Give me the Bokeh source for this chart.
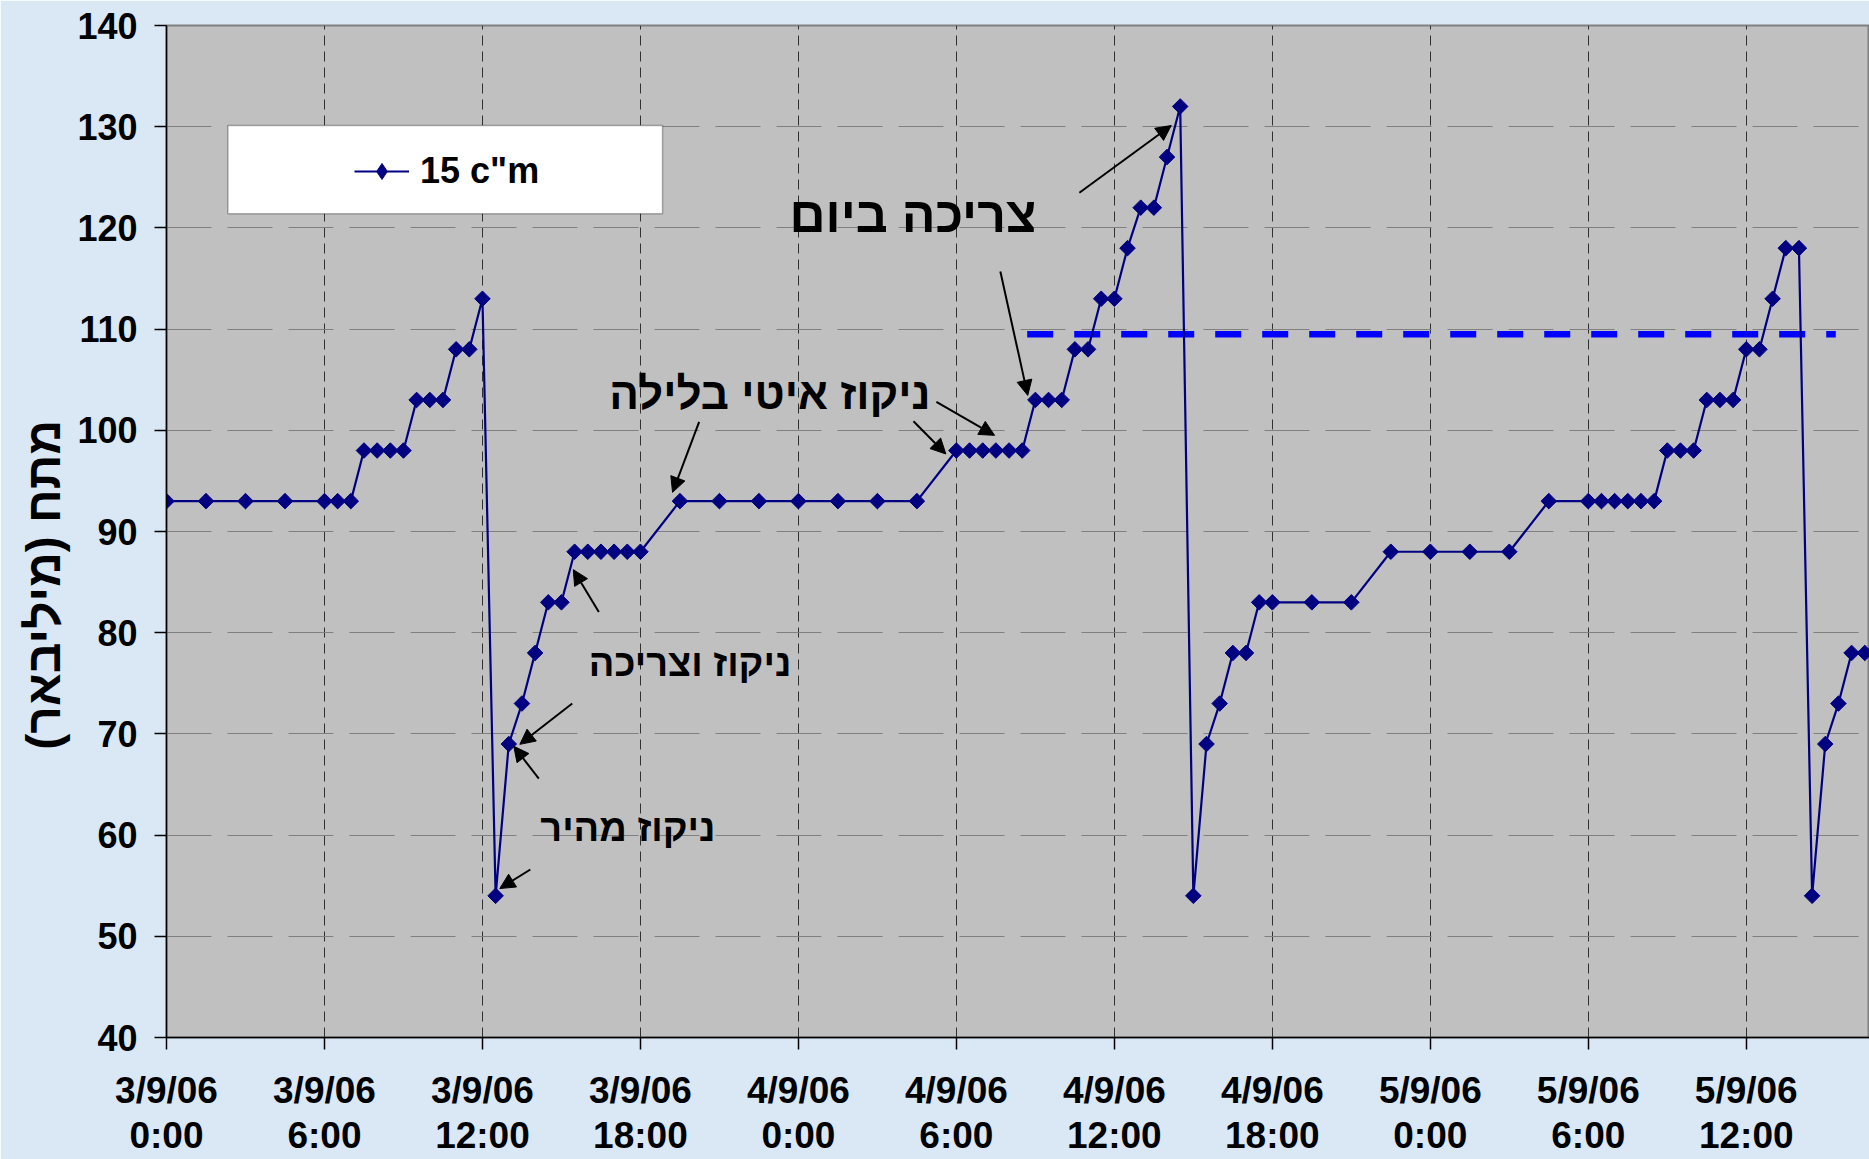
from bokeh.plotting import figure
from bokeh.models import (Range1d, FixedTicker, Arrow, NormalHead, Label, BoxAnnotation,
                          ColumnDataSource)
from bokeh.embed import file_html
from bokeh.resources import INLINE

# ---------------- data ----------------
# time in hours since 3/9/06 0:00
hours = [0, 1.5, 3, 4.5, 6, 6.5, 7, 7.5, 8, 8.5, 9, 9.5, 10, 10.5, 11, 11.5, 12,
         12.5, 13, 13.5, 14, 14.5, 15, 15.5, 16, 16.5, 17, 17.5, 18,
         19.5, 21, 22.5, 24, 25.5, 27, 28.5,
         30, 30.5, 31, 31.5, 32, 32.5, 33, 33.5, 34, 34.5, 35, 35.5, 36, 36.5,
         37, 37.5, 38, 38.5,
         39, 39.5, 40, 40.5, 41, 41.5, 42, 43.5, 45, 46.5, 48, 49.5, 51,
         52.5, 54, 54.5, 55, 55.5, 56, 56.5, 57, 57.5, 58, 58.5, 59, 59.5,
         60, 60.5, 61, 61.5, 62,
         62.5, 63, 63.5, 64, 64.5]
tension = [93, 93, 93, 93, 93, 93, 93, 98, 98, 98, 98, 103, 103, 103, 108, 108, 113,
           54, 69, 73, 78, 83, 83, 88, 88, 88, 88, 88, 88,
           93, 93, 93, 93, 93, 93, 93,
           98, 98, 98, 98, 98, 98, 103, 103, 103, 108, 108, 113, 113, 118,
           122, 122, 127, 132,
           54, 69, 73, 78, 78, 83, 83, 83, 83, 88, 88, 88, 88,
           93, 93, 93, 93, 93, 93, 93, 98, 98, 98, 103, 103, 103,
           108, 108, 113, 118, 118,
           54, 69, 73, 78, 78]
series_name = "15 c\"m"

threshold_hours = [32.69, 63.4]
threshold_value = [109.5, 109.5]

x_ticks = [0, 6, 12, 18, 24, 30, 36, 42, 48, 54, 60]
x_tick_labels = ["3/9/06\n0:00", "3/9/06\n6:00", "3/9/06\n12:00", "3/9/06\n18:00",
                 "4/9/06\n0:00", "4/9/06\n6:00", "4/9/06\n12:00", "4/9/06\n18:00",
                 "5/9/06\n0:00", "5/9/06\n6:00", "5/9/06\n12:00"]
y_ticks = [40, 50, 60, 70, 80, 90, 100, 110, 120, 130, 140]
y_title = "מתח (מיליבאר)\u200f"

# annotation texts (right end x, middle y in data units)
note_texts = ["צריכה ביום", "ניקוז איטי בלילה", "ניקוז וצריכה", "ניקוז מהיר"]
note_x = [33.04, 29.02, 23.73, 20.85]
note_y = [121.23, 103.65, 77.02, 60.68]

# arrows (start -> end, data units)
arrow_x0 = [34.67, 31.67, 29.24, 28.37, 20.23, 16.42, 15.41, 14.14, 13.82]
arrow_y0 = [123.47, 115.7, 102.8, 100.9, 100.84, 82.04, 73.0, 65.58, 56.6]
arrow_x1 = [38.16, 32.71, 31.45, 29.6, 19.22, 15.45, 13.42, 13.19, 12.66]
arrow_y1 = [130.12, 103.45, 99.5, 97.66, 93.87, 86.23, 68.97, 68.78, 54.72]

# ---------------- figure ----------------
W, H = 1869, 1159
p = figure(width=W, height=H, x_range=Range1d(0, 64.68), y_range=Range1d(40, 140),
           output_backend="svg", toolbar_location=None,
           min_border_left=166, min_border_top=25, min_border_bottom=122, min_border_right=0,
           background_fill_color="#c0c0c0", border_fill_color="#dae8f6")
p.outline_line_color = "#808080"
p.outline_line_width = 2

# grids
p.ygrid.ticker = FixedTicker(ticks=y_ticks)
p.ygrid.grid_line_color = "#808080"
p.ygrid.grid_line_dash = "45 16"
p.ygrid.grid_line_width = 1
p.xgrid.ticker = FixedTicker(ticks=x_ticks)
p.xgrid.grid_line_color = "#303030"
p.xgrid.grid_line_dash = "10 6"
p.xgrid.grid_line_width = 1

# axes
for ax in (p.xaxis[0], p.yaxis[0]):
    ax.axis_line_color = "black"
    ax.axis_line_width = 1.5
    ax.major_tick_line_color = "black"
    ax.major_tick_line_width = 1.5
    ax.major_tick_in = 0
    ax.major_tick_out = 12
    ax.minor_tick_line_color = None
    ax.major_label_text_font = "Liberation Sans"
    ax.major_label_text_font_style = "bold"
    ax.major_label_text_color = "black"

p.xaxis.ticker = FixedTicker(ticks=x_ticks)
p.xaxis.major_label_overrides = {t: s for t, s in zip(x_ticks, x_tick_labels)}
p.xaxis.major_label_text_font_size = "37px"
p.xaxis.major_label_standoff = 20
p.xaxis.major_label_text_line_height = 1.1

p.yaxis.ticker = FixedTicker(ticks=y_ticks)
p.yaxis.major_label_text_font_size = "36px"
p.yaxis.major_label_standoff = 17
p.yaxis.axis_label = y_title + "\u00a0" * 8
p.yaxis.axis_label_text_font = "Liberation Sans"
p.yaxis.axis_label_text_font_style = "bold"
p.yaxis.axis_label_text_font_size = "48px"
p.yaxis.axis_label_text_color = "black"
p.yaxis.axis_label_standoff = 4

# legend frame (drawn below the legend entry)
p.add_layout(BoxAnnotation(left=2.33, right=18.84, bottom=121.4, top=130.12,
                           fill_color="white", fill_alpha=1.0,
                           line_color="black", line_width=1.5, level="annotation"))

# threshold dashed line
p.line(threshold_hours, threshold_value, line_color="#0000ff", line_width=6.5,
       line_dash="26 21")

# series
src = ColumnDataSource(dict(h=hours, v=tension))
p.line("h", "v", source=src, line_color="#000080", line_width=2.2, legend_label=series_name)
p.scatter("h", "v", source=src, marker="square", angle=0.7853981634, size=11,
          fill_color="#000080", line_color="#000080", line_width=1)
# same points, zero-size diamonds: only supply the legend symbol
p.scatter("h", "v", source=src, marker="diamond", size=0,
          fill_color="#000080", line_color="#000080", line_width=1, legend_label=series_name)

# arrows
asrc = ColumnDataSource(dict(x0=arrow_x0, y0=arrow_y0, x1=arrow_x1, y1=arrow_y1))
p.add_layout(Arrow(end=NormalHead(size=15, fill_color="black", line_color="black", line_width=1),
                   x_start="x0", y_start="y0", x_end="x1", y_end="y1", source=asrc,
                   line_color="black", line_width=2))

# annotation texts
note_sizes = ["50px", "44px", "38px", "38px"]
for t, x, y, s in zip(note_texts, note_x, note_y, note_sizes):
    p.add_layout(Label(x=x, y=y, text=t, text_font="Liberation Sans", text_font_size=s,
                       text_font_style="bold", text_color="black",
                       text_align="right", text_baseline="middle"))

# legend
lg = p.legend[0]
lg.location = (188, 845)
lg.padding = 0
lg.margin = 0
lg.border_line_color = None
lg.background_fill_alpha = 0
lg.glyph_width = 55
lg.glyph_height = 40
lg.label_height = 38
lg.label_standoff = 11
lg.label_text_font = "Liberation Sans"
lg.label_text_font_style = "bold"
lg.label_text_font_size = "36px"
lg.label_text_color = "black"

open("out.html", "w").write(file_html(p, INLINE))
